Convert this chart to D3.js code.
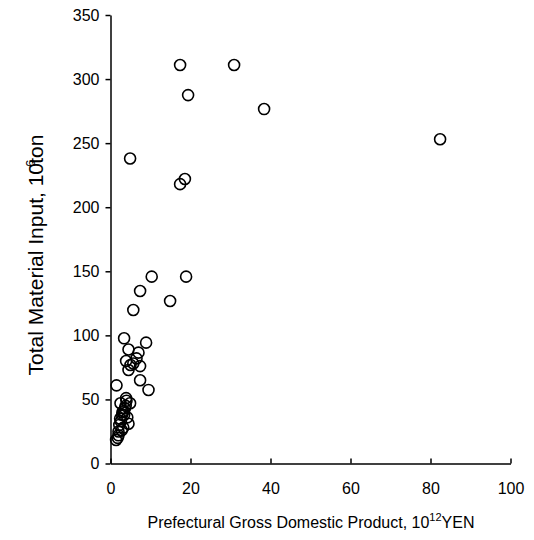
<!DOCTYPE html>
<html>
<head>
<meta charset="utf-8">
<script src="https://cdn.jsdelivr.net/npm/d3@7"></script>
<style>
  body { margin: 0; background: #fff; }
  svg text { font-family: "Liberation Sans", Arial, sans-serif; fill: #000; }
</style>
</head>
<body>
<svg id="chart" width="534" height="540"></svg>
<script>
// GDP (10^12 YEN) vs total material input (10^6 ton), one point per prefecture
var gdp = [17.4, 30.9, 19.4, 38.4, 82.4, 4.9, 18.6, 17.4,
           10.3, 18.9, 7.4, 14.9, 5.7,
           3.4, 8.9, 4.5, 7.0, 3.9, 6.5, 5.0, 7.4, 4.5, 5.7, 7.4, 1.5, 9.5,
           3.9, 4.9, 2.5, 3.6, 3.4, 2.4, 4.5, 2.2, 2.8, 2.0, 1.4,
           3.0, 2.6, 3.2, 2.0, 3.8, 4.2, 2.9, 1.8, 4.0, 3.3];
var tmi = [311, 311, 287.5, 276.6, 253, 238, 222, 218,
           145.8, 145.8, 134.6, 126.8, 119.8,
           97.7, 94.3, 89, 86.5, 80, 82, 76.9, 76, 73, 78, 65, 61, 57.4,
           51, 47, 47, 43, 37.8, 35, 31, 30, 26, 25, 18.3,
           40, 33, 28, 22, 45, 36, 38, 20, 49, 41];
var xTicks = [0, 20, 40, 60, 80, 100];
var yTicks = [0, 50, 100, 150, 200, 250, 300, 350];

var svg = d3.select('#chart');
var x = d3.scaleLinear().domain([0, 100]).range([110.5, 510.5]);
var y = d3.scaleLinear().domain([0, 350]).range([463.5, 15]);

// y axis: ticks outward
var yAxis = svg.append('g').attr('transform', 'translate(110.5,0)')
    .call(d3.axisLeft(y).tickValues(yTicks).tickSize(5).tickPadding(6).tickSizeOuter(0));
// x axis: ticks point up into plot
var xAxis = svg.append('g').attr('transform', 'translate(0,463.5)')
    .call(d3.axisBottom(x).tickValues(xTicks).tickSize(-5).tickPadding(19).tickSizeOuter(0));

[yAxis, xAxis].forEach(function (a) {
    a.select('.domain').attr('stroke', '#000').attr('stroke-width', 1.5);
    a.selectAll('.tick line').attr('stroke', '#000').attr('stroke-width', 1.5);
    a.selectAll('.tick text').attr('font-size', 16).style('font-family', '"Liberation Sans", Arial, sans-serif');
});

// points
svg.append('g').selectAll('circle')
    .data(gdp.map(function (v, i) { return [v, tmi[i]]; }))
    .join('circle')
    .attr('cx', function (d) { return x(d[0]); })
    .attr('cy', function (d) { return y(d[1]); })
    .attr('r', 5.5)
    .attr('fill', 'none')
    .attr('stroke', '#000')
    .attr('stroke-width', 1.6);

// axis titles
var xt = svg.append('text')
    .attr('x', 311).attr('y', 528)
    .attr('text-anchor', 'middle')
    .attr('font-size', 16);
xt.append('tspan').text('Prefectural Gross Domestic Product, 10');
xt.append('tspan').attr('font-size', 11).attr('dy', -7).text('12');
xt.append('tspan').attr('dy', 7).text('YEN');

var yt = svg.append('text')
    .attr('transform', 'translate(43,255) rotate(-90)')
    .attr('text-anchor', 'middle')
    .attr('font-size', 21);
yt.append('tspan').text('Total Material Input, 10');
yt.append('tspan').attr('font-size', 13).attr('dy', -8).attr('dx', -4).text('6');
yt.append('tspan').attr('dy', 8).attr('dx', -4).text('ton');
</script>
</body>
</html>
